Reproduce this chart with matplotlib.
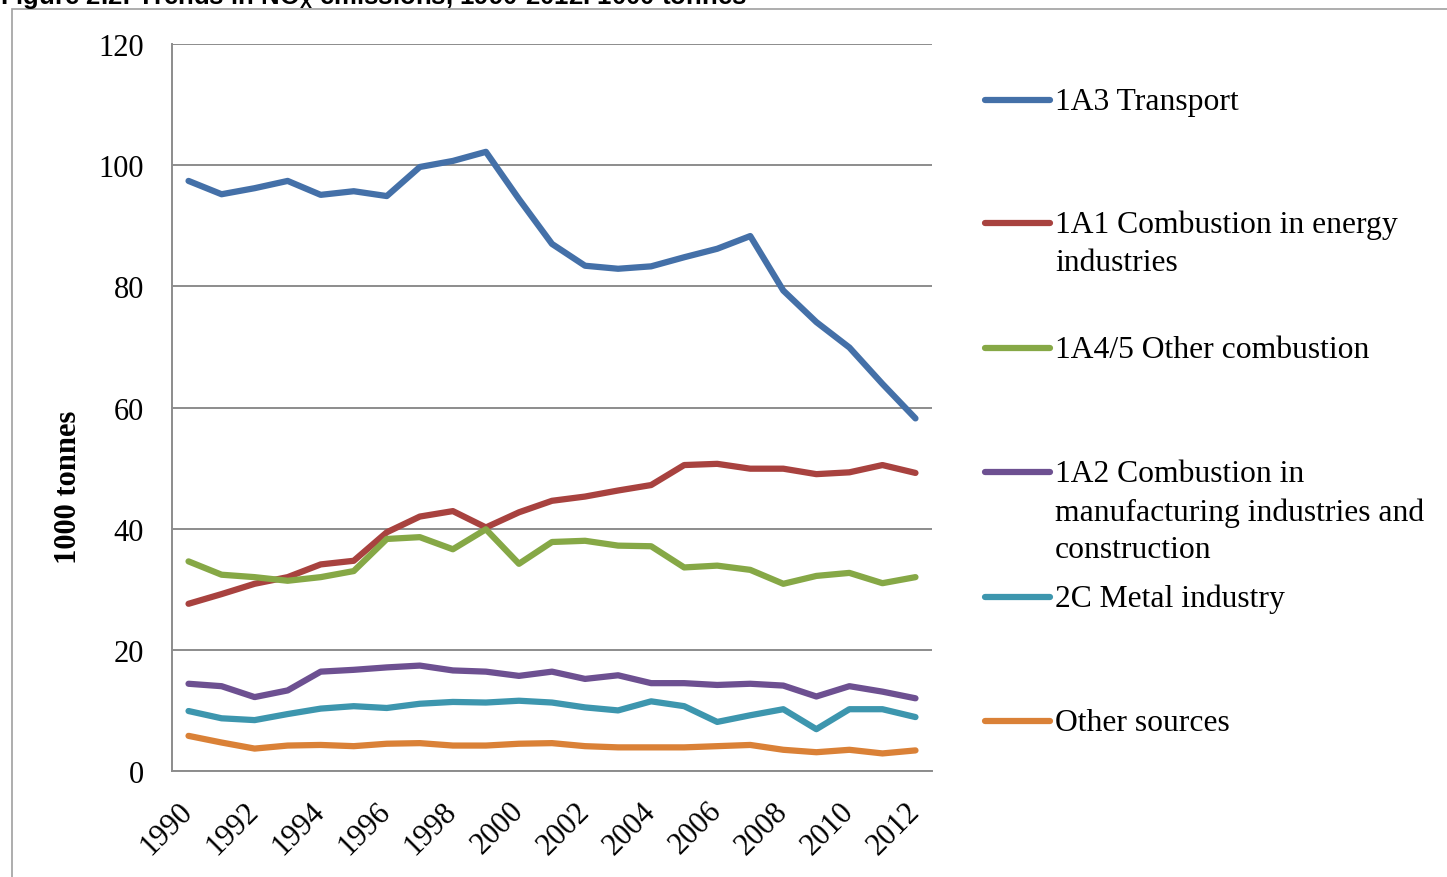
import numpy as np
import matplotlib.pyplot as plt
from matplotlib.lines import Line2D
from matplotlib.patches import Rectangle
from matplotlib.transforms import ScaledTranslation

plt.rcParams['font.family'] = ['Liberation Serif', 'DejaVu Serif']
plt.rcParams['mathtext.default'] = 'regular'

years = list(range(1990, 2013))

transport = [97.4, 95.2, 96.2, 97.4, 95.1, 95.7, 94.9, 99.7, 100.7, 102.2, 94.4, 87.0,
             83.4, 82.9, 83.3, 84.8, 86.2, 88.3, 79.3, 74.1, 69.9, 63.9, 58.2]
energy = [27.6, 29.2, 30.9, 32.0, 34.1, 34.7, 39.4, 42.0, 42.9, 40.2, 42.7, 44.6,
          45.3, 46.3, 47.2, 50.5, 50.7, 49.9, 49.9, 49.0, 49.3, 50.5, 49.2]
other_comb = [34.6, 32.4, 32.0, 31.4, 32.0, 33.0, 38.3, 38.6, 36.6, 39.9, 34.2, 37.8,
              38.0, 37.2, 37.1, 33.6, 33.9, 33.2, 30.9, 32.2, 32.7, 31.0, 32.0]
manufacturing = [14.4, 14.0, 12.2, 13.3, 16.4, 16.7, 17.1, 17.4, 16.6, 16.4, 15.7, 16.4,
                 15.2, 15.8, 14.5, 14.5, 14.2, 14.4, 14.1, 12.3, 14.0, 13.1, 12.0]
metal = [9.9, 8.7, 8.4, 9.4, 10.3, 10.7, 10.4, 11.1, 11.4, 11.3, 11.6, 11.3,
         10.5, 10.0, 11.5, 10.7, 8.1, 9.2, 10.2, 6.9, 10.2, 10.2, 8.9]
other_src = [5.8, 4.7, 3.7, 4.2, 4.3, 4.1, 4.5, 4.6, 4.2, 4.2, 4.5, 4.6,
             4.1, 3.9, 3.9, 3.9, 4.1, 4.3, 3.5, 3.1, 3.5, 2.9, 3.4]

series = [transport, energy, other_comb, manufacturing, metal, other_src]
labels = ['1A3 Transport',
          '1A1 Combustion in energy\nindustries',
          '1A4/5 Other combustion',
          '1A2 Combustion in\nmanufacturing industries and\nconstruction',
          '2C Metal industry',
          'Other sources']
colors = ['#4470A8', '#A8423F', '#86A846', '#6D5091', '#3D96AE', '#DA8137']

W, H = 1447, 878
fig = plt.figure(figsize=(W / 100, H / 100), dpi=100)
ax = fig.add_axes([172 / W, 1 - 772 / H, 760 / W, 727 / H])

x = np.arange(len(years))
for vals, c in zip(series, colors):
    ax.plot(x, vals, color=c, lw=4.5, solid_capstyle='round', solid_joinstyle='round')

ax.set_xlim(-0.5, len(years) - 0.5)
ax.set_ylim(0, 120)
ax.set_yticks(range(0, 121, 20))
ax.set_xticks(x[::2])
ax.set_xticklabels([str(y) for y in years[::2]], rotation=45, ha='right')
ax.tick_params(axis='x', length=0, pad=18, labelsize=22)
ax.tick_params(axis='y', length=0, pad=20, labelsize=22)
# nudge the slanted year labels a little to the right
shift = ScaledTranslation(10 / 100, 0, fig.dpi_scale_trans)
for t in ax.get_xticklabels():
    t.set_transform(t.get_transform() + shift)
ax.grid(axis='y', color='#8c8c8c', lw=1.4)
ax.set_axisbelow(True)
for s in ['top', 'right']:
    ax.spines[s].set_visible(False)
for s in ['left', 'bottom']:
    ax.spines[s].set_color('#8c8c8c')
    ax.spines[s].set_linewidth(1.4)

fig.text(68 / W, 1 - 487 / H, '1000 tonnes', rotation=90, ha='center', va='center',
         fontsize=22, fontweight='bold')

# legend drawn by hand, entries evenly spaced like the original
leg_y = [101, 224, 349, 473, 598, 722]
for ly, lab, c in zip(leg_y, labels, colors):
    yy = 1 - ly / H
    fig.add_artist(Line2D([985 / W, 1050 / W], [yy, yy], color=c, lw=4.5,
                          solid_capstyle='round', transform=fig.transFigure))
    fig.text(1055 / W, 1 - (ly - 13) / H, lab, ha='left', va='top', fontsize=22.8,
             linespacing=1.4)

# frame and cut-off caption of the page
fig.add_artist(Rectangle((12 / W, -0.05), 1.2, 1.05 - 10 / H, fill=False,
                         edgecolor='#a0a0a0', lw=1.2, transform=fig.transFigure))
fig.text(0.0, 1 - 4 / H, r'Figure 2.2: Trends in NO$_X$ emissions, 1990-2012. 1000 tonnes',
         ha='left', va='baseline', fontsize=18.5, fontweight='bold',
         family=['Liberation Sans', 'DejaVu Sans'])

fig.savefig('out.png', dpi=100)
